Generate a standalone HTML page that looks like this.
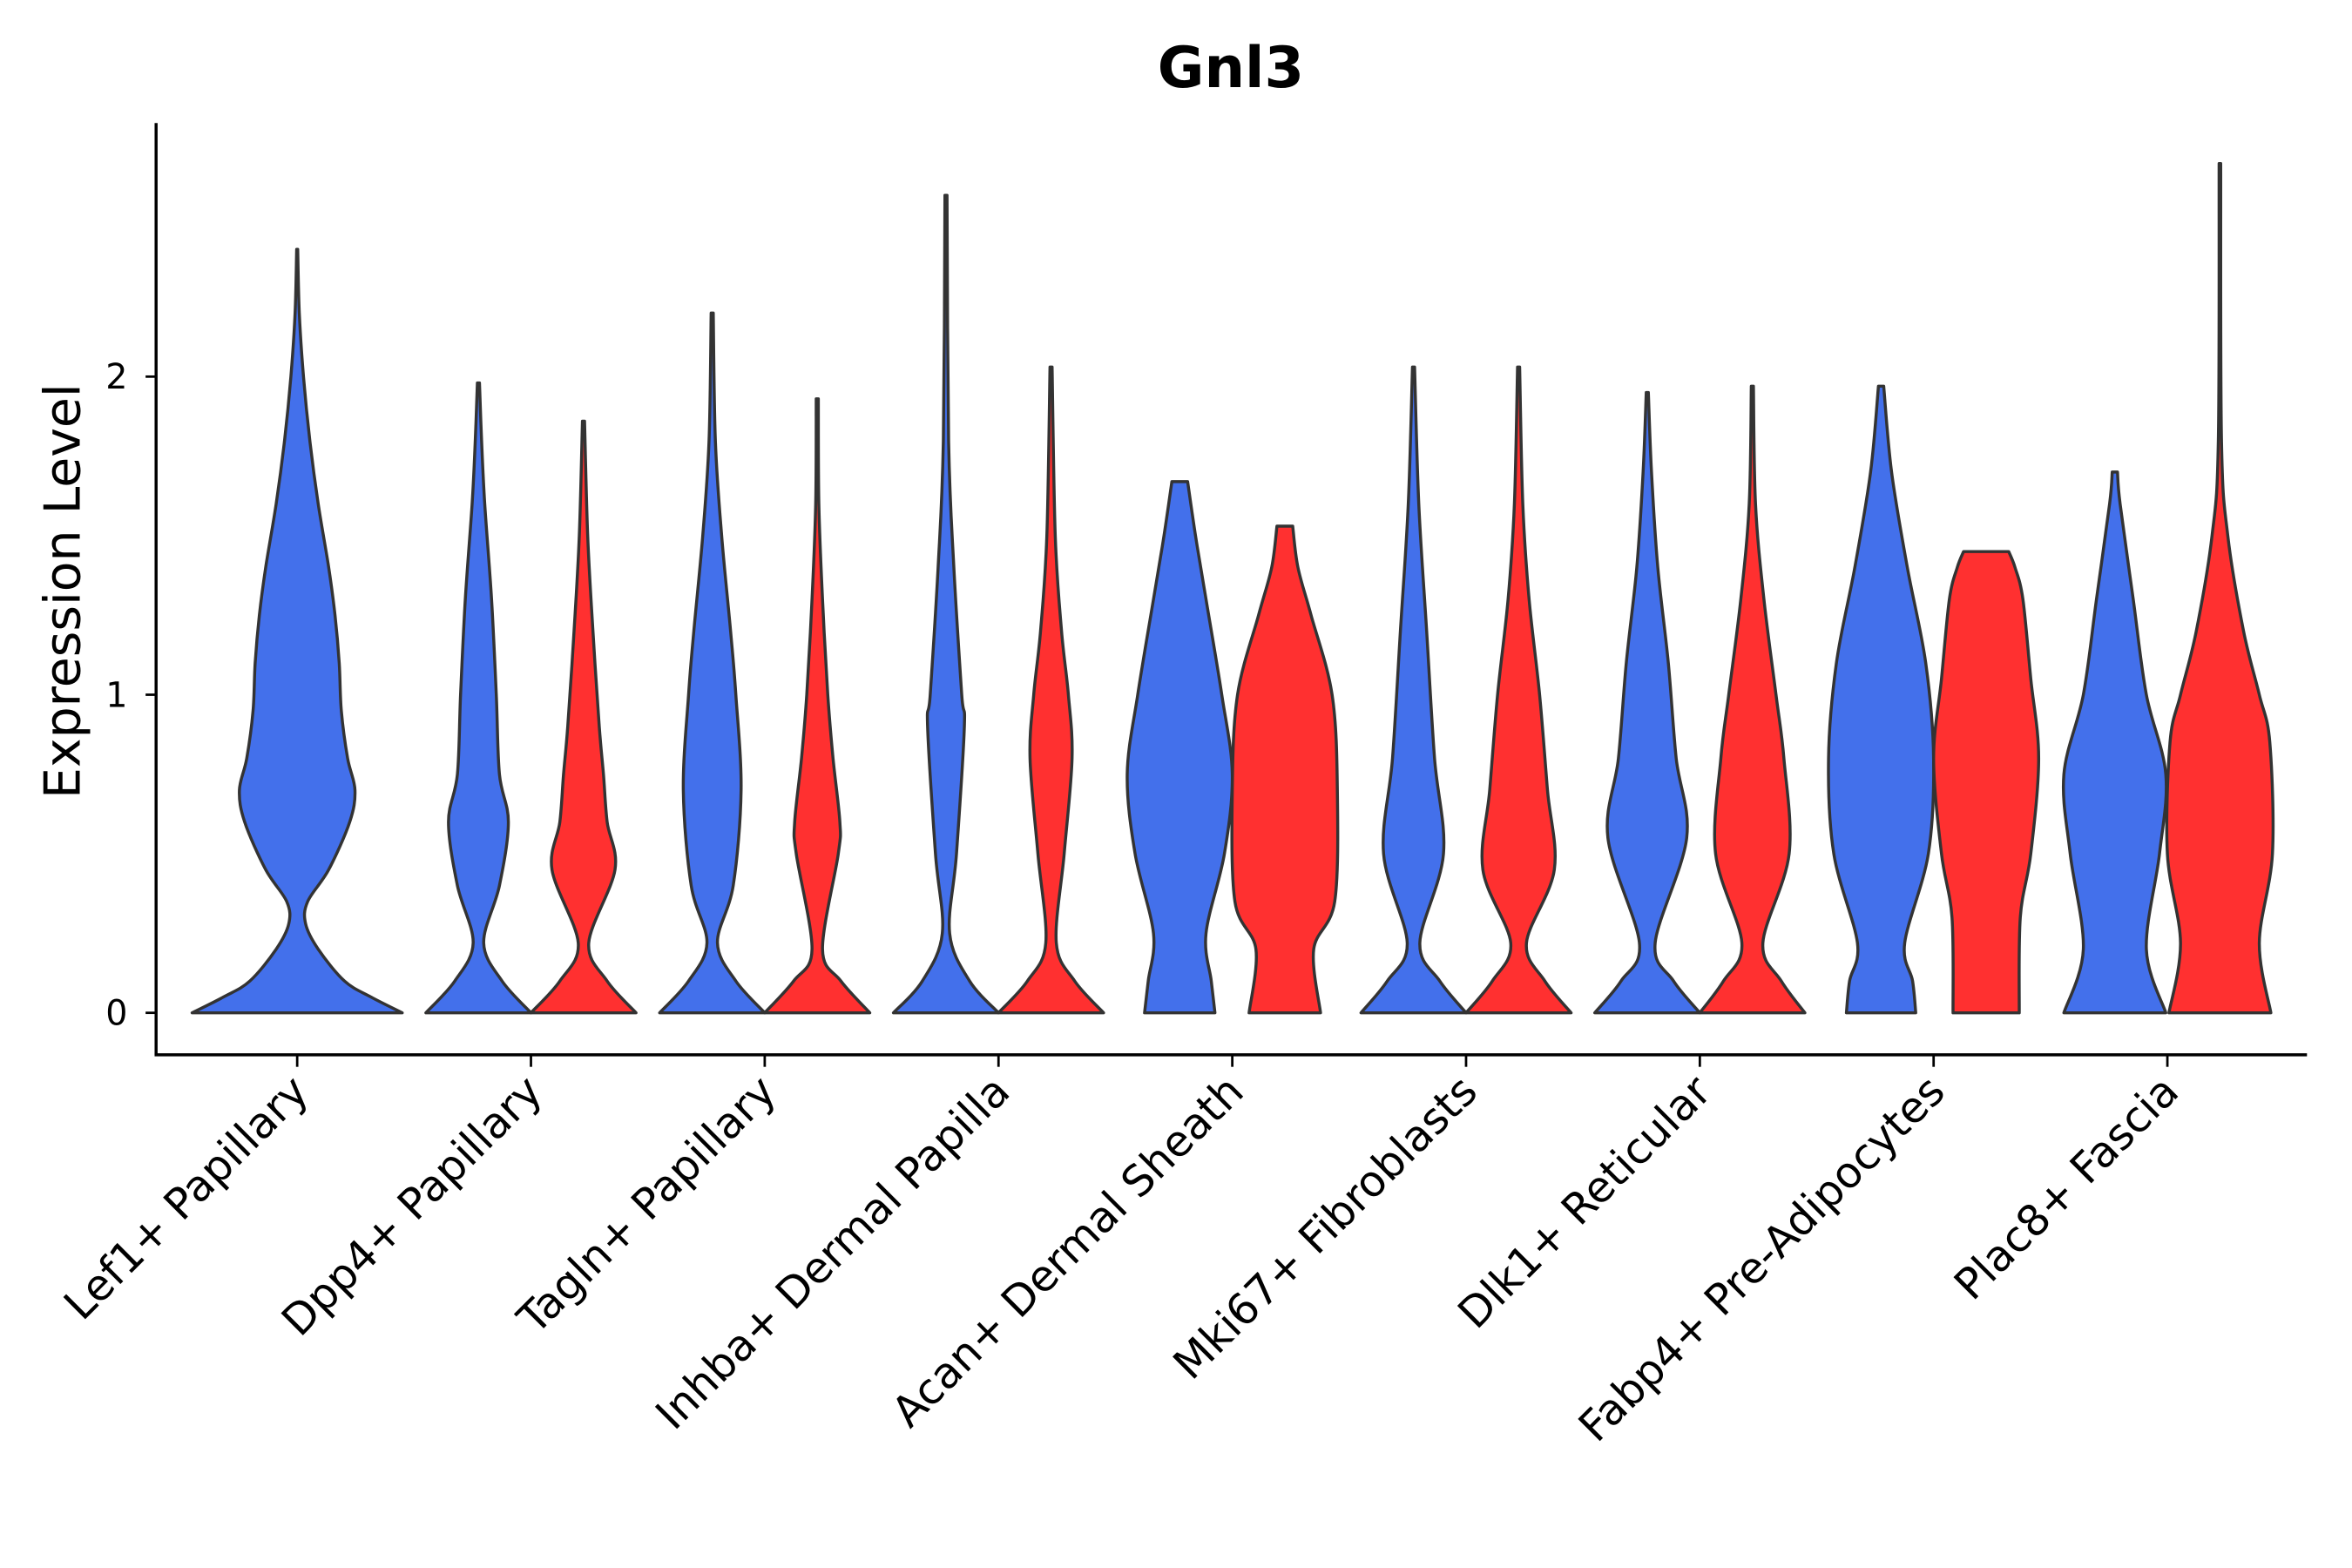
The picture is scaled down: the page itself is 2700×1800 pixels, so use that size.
<!DOCTYPE html>
<html><head><meta charset="utf-8"><style>
html,body{margin:0;padding:0;background:#fff;}
svg{display:block;font-family:"DejaVu Sans","Liberation Sans",sans-serif;}
</style></head><body>
<svg id="chart" width="2700" height="1800" viewBox="0 0 1567 1045" preserveAspectRatio="none" xmlns="http://www.w3.org/2000/svg">
<rect width="1567" height="1045" fill="#fff"/>
<text x="820" y="58" text-anchor="middle" font-size="38" font-weight="bold">Gnl3</text>
<text transform="translate(53,394) rotate(-90)" text-anchor="middle" font-size="33">Expression Level</text>
<g id="plot"></g>
</svg>
<script>
const categories = ["Lef1+ Papillary","Dpp4+ Papillary","Tagln+ Papillary","Inhba+ Dermal Papilla","Acan+ Dermal Sheath","Mki67+ Fibroblasts","Dlk1+ Reticular","Fabp4+ Pre-Adipocytes","Plac8+ Fascia"];
const yTicks = [0,1,2];
const lef1Levels = [0,0.05,0.1,0.2,0.28,0.35,0.45,0.6,0.7,0.8,0.95,1.1,1.25,1.4,1.6,1.8,2.0,2.2,2.4];
const lef1Dens =   [1,0.7,0.45,0.2,0.08,0.1,0.3,0.5,0.55,0.48,0.42,0.4,0.36,0.3,0.2,0.12,0.06,0.02,0.005];
const dpp4BLevels = [0,0.1,0.22,0.4,0.6,0.75,1.0,1.3,1.6,1.8,1.98];
const dpp4BDens =   [1,0.45,0.1,0.4,0.57,0.4,0.34,0.25,0.12,0.06,0.02];
const dpp4RLevels = [0,0.1,0.22,0.45,0.6,0.75,0.9,1.2,1.5,1.86];
const dpp4RDens =   [1,0.45,0.1,0.6,0.45,0.38,0.3,0.18,0.08,0.02];
const taglBLevels = [0,0.1,0.22,0.4,0.7,1.0,1.2,1.5,1.8,2.2];
const taglBDens =   [1,0.45,0.1,0.4,0.55,0.45,0.35,0.18,0.06,0.02];
const taglRLevels = [0,0.1,0.2,0.5,0.6,0.8,1.0,1.3,1.6,1.93];
const taglRDens =   [1,0.45,0.1,0.4,0.43,0.3,0.2,0.1,0.03,0.02];
const inhBLevels = [0,0.1,0.25,0.5,0.9,1.0,1.4,1.8,2.57];
const inhBDens =   [1,0.45,0.07,0.2,0.35,0.3,0.15,0.05,0.02];
const inhRLevels = [0,0.1,0.22,0.5,0.8,1.0,1.2,1.5,2.03];
const inhRDens =   [1,0.45,0.1,0.25,0.4,0.33,0.2,0.08,0.02];
const acaBLevels = [0,0.1,0.25,0.5,0.75,1.0,1.3,1.5,1.67];
const acaBDens =   [0.67,0.6,0.5,0.85,1.0,0.8,0.5,0.3,0.15];
const acaRLevels = [0,0.2,0.35,0.7,1.0,1.25,1.4,1.53];
const acaRDens =   [0.68,0.55,0.95,1.0,0.9,0.5,0.25,0.15];
const mkiBLevels = [0,0.1,0.22,0.5,0.8,1.2,1.6,2.03];
const mkiBDens =   [1,0.5,0.12,0.57,0.4,0.25,0.1,0.02];
const mkiRLevels = [0,0.1,0.22,0.45,0.7,1.0,1.3,1.6,2.03];
const mkiRDens =   [1,0.5,0.15,0.68,0.55,0.4,0.2,0.08,0.02];
const dlkBLevels = [0,0.1,0.22,0.55,0.8,1.1,1.4,1.7,1.95];
const dlkBDens =   [1,0.5,0.15,0.75,0.55,0.4,0.2,0.08,0.02];
const dlkRLevels = [0,0.1,0.22,0.5,0.8,1.0,1.3,1.6,1.97];
const dlkRDens =   [1,0.55,0.2,0.7,0.6,0.45,0.22,0.06,0.02];
const fabBLevels = [0,0.1,0.22,0.5,0.8,1.1,1.4,1.7,1.97];
const fabBDens =   [0.66,0.6,0.45,0.9,1.0,0.85,0.5,0.2,0.05];
const fabRLevels = [0,0.3,0.5,0.8,1.05,1.3,1.4,1.45];
const fabRDens =   [0.63,0.65,0.85,1.0,0.85,0.7,0.55,0.43];
const plaBLevels = [0,0.2,0.5,0.75,1.0,1.3,1.6,1.7];
const plaBDens =   [0.97,0.6,0.85,0.97,0.6,0.35,0.1,0.05];
const plaRLevels = [0,0.22,0.5,0.85,1.0,1.2,1.5,1.8,2.67];
const plaRDens =   [0.97,0.75,1.0,0.95,0.75,0.45,0.15,0.03,0.015];
const violins = [
 [0,-1,lef1Levels,lef1Dens],
 [1,0,dpp4BLevels,dpp4BDens],[1,1,dpp4RLevels,dpp4RDens],
 [2,0,taglBLevels,taglBDens],[2,1,taglRLevels,taglRDens],
 [3,0,inhBLevels,inhBDens],[3,1,inhRLevels,inhRDens],
 [4,0,acaBLevels,acaBDens],[4,1,acaRLevels,acaRDens],
 [5,0,mkiBLevels,mkiBDens],[5,1,mkiRLevels,mkiRDens],
 [6,0,dlkBLevels,dlkBDens],[6,1,dlkRLevels,dlkRDens],
 [7,0,fabBLevels,fabBDens],[7,1,fabRLevels,fabRDens],
 [8,0,plaBLevels,plaBDens],[8,1,plaRLevels,plaRDens]
];
const NS="http://www.w3.org/2000/svg";
const X0=104, X1=1537, Y0=82, YB=703;
function xScale(i){return 198 + i*155.75;}
function yScale(v){return 675 - v*212;}
const g=document.getElementById('plot');
function mk(tag,attrs){const e=document.createElementNS(NS,tag);for(const k in attrs)e.setAttribute(k,attrs[k]);g.appendChild(e);return e;}
function smooth(pts){
  let d="M"+pts[0][0]+","+pts[0][1];
  for(let i=0;i<pts.length-1;i++){
    const p0=pts[Math.max(0,i-1)],p1=pts[i],p2=pts[i+1],p3=pts[Math.min(pts.length-1,i+2)];
    const c1=[p1[0]+(p2[0]-p0[0])/6,p1[1]+(p2[1]-p0[1])/6];
    const c2=[p2[0]-(p3[0]-p1[0])/6,p2[1]-(p3[1]-p1[1])/6];
    d+=" C"+c1[0].toFixed(2)+","+c1[1].toFixed(2)+" "+c2[0].toFixed(2)+","+c2[1].toFixed(2)+" "+p2[0].toFixed(2)+","+p2[1].toFixed(2);
  }
  return d;
}
violins.forEach(v=>{
  const [ci,grp,lv,dn]=v;
  const cx = grp<0 ? xScale(ci) : xScale(ci) + (grp===0?-35:35);
  const hw = grp<0 ? 70 : 35;
  const right=lv.map((l,k)=>[cx+dn[k]*hw,yScale(l)]);
  const left=lv.map((l,k)=>[cx-dn[k]*hw,yScale(l)]).reverse();
  let d=smooth(right);
  d+=" L"+left[0][0].toFixed(2)+","+left[0][1].toFixed(2)+" "+smooth(left).slice(1).replace(/^[^ ]+/,'');
  d+=" Z";
  const p=mk('path',{d:d,fill:grp===1?'#ff3030':'#4370eb',stroke:'#333','stroke-width':2,'stroke-linejoin':'round'});
  
  
});
const ya=mk('line',{x1:X0,y1:Y0,x2:X0,y2:YB,stroke:'#000','stroke-width':2});


const xa=mk('line',{x1:X0-1,y1:YB,x2:X1,y2:YB,stroke:'#000','stroke-width':2});


yTicks.forEach(t=>{
  const y=yScale(t);
  const tk=mk('line',{x1:X0-7,y1:y,x2:X0,y2:y,stroke:'#000','stroke-width':1.6});
  
  
  const tx=mk('text',{x:X0-19,y:y+8,'text-anchor':'end','font-size':23});
  tx.textContent=t;
  
  
});
categories.forEach((c,i)=>{
  const x=xScale(i);
  const tk=mk('line',{x1:x,y1:YB,x2:x,y2:YB+8,stroke:'#000','stroke-width':1.6});
  
  
  const tx=mk('text',{transform:'translate('+(x+9)+',729) rotate(-45)','text-anchor':'end','font-size':28.5});
  tx.textContent=c;
  
  
});
</script>
</body></html>
